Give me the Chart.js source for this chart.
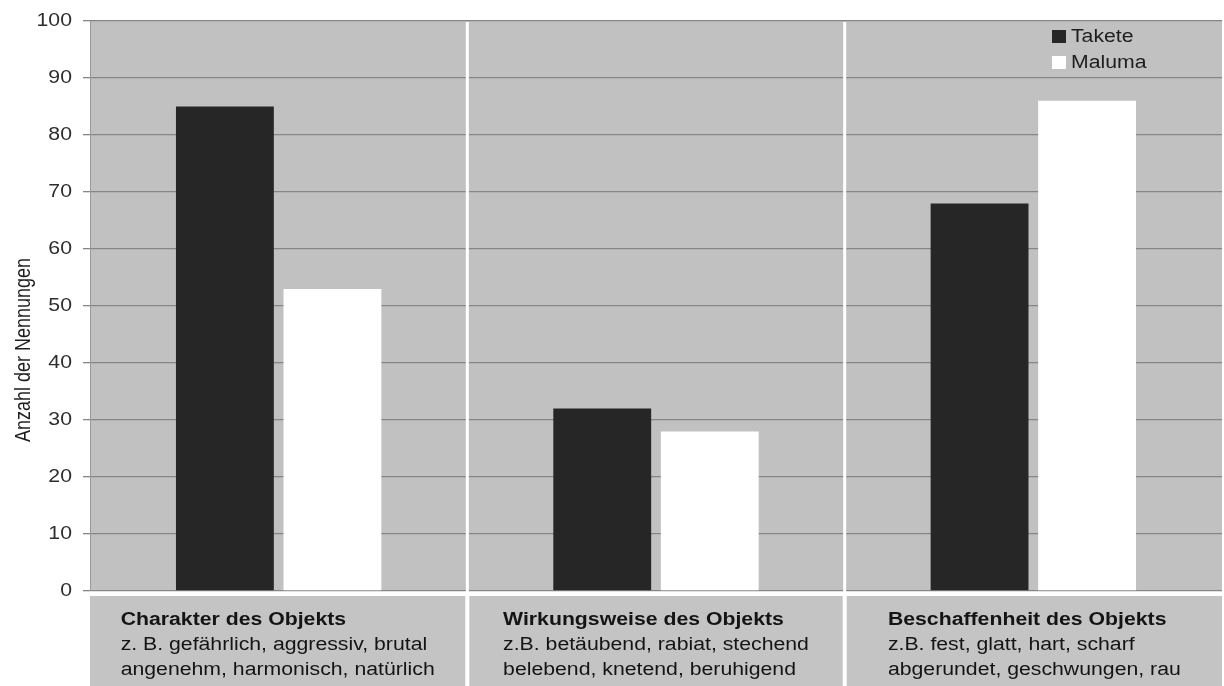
<!DOCTYPE html>
<html>
<head>
<meta charset="utf-8">
<style>
  html, body { margin: 0; padding: 0; background: #ffffff; }
  #wrap { width: 1224px; height: 686px; position: relative; }
</style>
<script src="https://cdn.jsdelivr.net/npm/chart.js@4/dist/chart.umd.min.js"></script>
</head>
<body>
<div id="wrap"><canvas id="c" width="1224" height="686"></canvas></div>
<script>
// Category headings and example adjectives shown in the boxes under each group
const categories = ['Charakter des Objekts', 'Wirkungsweise des Objekts', 'Beschaffenheit des Objekts'];
const examplesTakete = ['z. B. gefährlich, aggressiv, brutal', 'z.B. betäubend, rabiat, stechend', 'z.B. fest, glatt, hart, scharf'];
const examplesMaluma = ['angenehm, harmonisch, natürlich', 'belebend, knetend, beruhigend', 'abgerundet, geschwungen, rau'];

// Number of mentions per category
const takete = [85, 32, 68];
const maluma = [53, 28, 86];

const seriesNames = ['Takete', 'Maluma'];
const yTitle = 'Anzahl der Nennungen';

const FONT = '"Liberation Sans", Arial, sans-serif';
const SX = 1.18; // text is set slightly wide

function wideText(ctx, text, x, y) {
  ctx.save();
  ctx.translate(x, y);
  ctx.scale(SX, 1);
  ctx.fillText(text, 0, 0);
  ctx.restore();
}

const decor = {
  id: 'decor',
  beforeDraw(chart) {
    const { ctx, chartArea: a } = chart;
    ctx.save();
    ctx.fillStyle = '#c1c1c1';
    ctx.fillRect(a.left, a.top, a.right - a.left, a.bottom - a.top);
    ctx.restore();
  },
  afterDraw(chart) {
    const { ctx, chartArea: a } = chart;
    const xs = chart.scales.x;
    const ys = chart.scales.y;
    const H = chart.height;
    const n = chart.data.labels.length;
    const edges = [a.left];
    for (let i = 0; i < n - 1; i++) {
      edges.push((xs.getPixelForValue(i) + xs.getPixelForValue(i + 1)) / 2);
    }
    edges.push(a.right + 2);

    ctx.save();
    // left edge of the plot
    ctx.strokeStyle = '#9a9a9a';
    ctx.lineWidth = 1;
    ctx.beginPath();
    ctx.moveTo(a.left + 0.5, a.top);
    ctx.lineTo(a.left + 0.5, a.bottom);
    ctx.stroke();

    // y tick labels
    ctx.fillStyle = '#2e2e2e';
    ctx.font = '18px ' + FONT;
    ctx.textAlign = 'right';
    ctx.textBaseline = 'middle';
    ys.ticks.forEach(t => {
      wideText(ctx, String(t.value), a.left - 18, ys.getPixelForValue(t.value));
    });

    // label boxes below the plot
    const boxTop = a.bottom + 5;
    ctx.textAlign = 'left';
    for (let i = 0; i < n; i++) {
      const l = edges[i] + (i === 0 ? 0 : 2);
      const r = edges[i + 1] - 2;
      ctx.fillStyle = '#c4c4c4';
      ctx.fillRect(l, boxTop, r - l, H - boxTop);
      ctx.font = 'bold 18px ' + FONT;
      const w0 = ctx.measureText(categories[i]).width;
      ctx.font = '18px ' + FONT;
      const w1 = ctx.measureText(examplesTakete[i]).width;
      const w2 = ctx.measureText(examplesMaluma[i]).width;
      const bw = Math.max(w0, w1, w2) * SX;
      const tx = (l + r) / 2 - bw / 2;
      ctx.fillStyle = '#141414';
      ctx.font = 'bold 18px ' + FONT;
      wideText(ctx, categories[i], tx, boxTop + 24);
      ctx.font = '18px ' + FONT;
      wideText(ctx, examplesTakete[i], tx, boxTop + 49);
      wideText(ctx, examplesMaluma[i], tx, boxTop + 74);
    }
    // white separators between groups
    ctx.strokeStyle = '#ffffff';
    ctx.lineWidth = 3;
    for (let i = 1; i < n; i++) {
      ctx.beginPath();
      ctx.moveTo(edges[i], a.top + 1);
      ctx.lineTo(edges[i], H);
      ctx.stroke();
    }
    ctx.beginPath();
    ctx.moveTo(a.left - 2, a.bottom + 2.5);
    ctx.lineTo(a.right + 2, a.bottom + 2.5);
    ctx.stroke();

    // legend inside the plot, top right
    const ds = chart.data.datasets;
    ctx.font = '18px ' + FONT;
    ctx.textBaseline = 'middle';
    ctx.textAlign = 'left';
    for (let k = 0; k < ds.length; k++) {
      const cy = a.top + 16 + k * 26;
      ctx.fillStyle = ds[k].backgroundColor;
      ctx.fillRect(1052, cy - 7, 14, 13);
      ctx.fillStyle = '#1e1e1e';
      wideText(ctx, ds[k].label, 1071, cy);
    }

    // rotated y-axis title
    ctx.translate(24, 350);
    ctx.rotate(-Math.PI / 2);
    ctx.scale(1, SX);
    ctx.textAlign = 'center';
    ctx.fillStyle = '#1e1e1e';
    ctx.fillText(yTitle, 0, 0);
    ctx.restore();
  }
};

new Chart(document.getElementById('c'), {
  type: 'bar',
  data: {
    labels: categories,
    datasets: [
      { label: seriesNames[0], data: takete, backgroundColor: '#262626', borderWidth: 0 },
      { label: seriesNames[1], data: maluma, backgroundColor: '#ffffff', borderWidth: 0 }
    ]
  },
  options: {
    responsive: false,
    animation: false,
    devicePixelRatio: 1,
    layout: { padding: { top: 21, right: 2, bottom: 95, left: 0 } },
    plugins: { legend: { display: false }, tooltip: { enabled: false } },
    datasets: { bar: { categoryPercentage: 0.57, barPercentage: 0.91 } },
    scales: {
      x: { display: false },
      y: {
        min: 0, max: 100,
        ticks: { stepSize: 10, display: false },
        grid: { color: '#868686', lineWidth: 1.3, tickLength: 7 },
        border: { display: false },
        afterFit(s) { s.width = 90; }
      }
    }
  },
  plugins: [decor]
});
</script>
</body>
</html>
